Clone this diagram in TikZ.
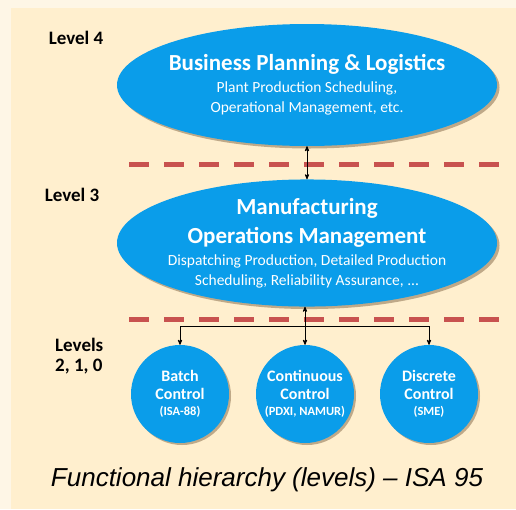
\documentclass[tikz,border=0pt]{standalone}
\usepackage{fontspec}
\setmainfont{Carlito}
\newfontfamily\capfont{Liberation Sans}
\usepackage{tikz}
\usetikzlibrary{shapes.geometric, arrows, positioning, shadows}
\definecolor{outerbg}{HTML}{FEF6E6}
\definecolor{innerbg}{HTML}{FFEFCE}
\definecolor{isablue}{HTML}{0A9DEA}
\definecolor{sepred}{HTML}{C8524F}
\tikzset{
  ell_b/.style = {ellipse, fill=isablue, text=white, align=center, inner xsep=-14pt, inner ysep=0pt,
    minimum width=380pt, minimum height=122pt, font=\fontsize{15.5}{20}\selectfont,
    drop shadow={shadow xshift=2.5pt, shadow yshift=-2.5pt, fill=black!50!brown, opacity=0.4}},
  circ_b/.style = {circle, fill=isablue, text=white, align=center, inner sep=0pt,
    minimum size=98pt, font=\fontsize{16}{18}\selectfont\bfseries,
    drop shadow={shadow xshift=2pt, shadow yshift=-2pt, fill=black!50!brown, opacity=0.4}},
  lvl_t/.style = {align=left, inner sep=0pt, font=\fontsize{19}{21}\selectfont\bfseries},
  sep_l/.style = {draw=sepred, line width=5pt, dash pattern=on 20pt off 15pt}
}

\begin{document}
\begin{tikzpicture}[x=1pt, y=-1pt, >=stealth']
  \fill[outerbg] (0,0) rectangle (516,509);
  \fill[innerbg] (11,8) rectangle (516,509);
  \useasboundingbox (0,0) rectangle (516,509);

  % levels
  \node[lvl_t] (l4) at (76,38) {Level 4};
  \node[lvl_t] (l3) at (72,195) {Level 3};
  \node[lvl_t, anchor=north west, font=\fontsize{19}{20}\selectfont\bfseries] (l2) at (55,338) {Levels\\2, 1, 0};

  % separators
  \coordinate (s1a) at (129,164);
  \coordinate (s1b) at (500,164);
  \coordinate (s2a) at (129,319);
  \coordinate (s2b) at (500,319);
  \draw[sep_l] (s1a) -- (s1b);
  \draw[sep_l] (s2a) -- (s2b);

  % ellipses
  \node[ell_b] (bpl) at (307,85) {%
    {\fontsize{23}{27}\selectfont\bfseries Business Planning \& Logistics}\\[2pt]
    Plant Production Scheduling,\\
    Operational Management, etc.};
  \node[ell_b] (mom) at (307,243) {%
    {\fontsize{23}{27}\selectfont\bfseries Manufacturing}\\[8pt]
    {\fontsize{23}{27}\selectfont\bfseries Operations Management}\\[2pt]
    Dispatching Production, Detailed Production\\
    Scheduling, Reliability Assurance, ...};

  % control circles
  \node[circ_b] (bc) at (180,394) {Batch\\Control\\[-2pt]{\fontsize{12.5}{14}\selectfont (ISA-88)}};
  \node[circ_b] (cc) at (305,394) {Continuous\\Control\\[-2pt]{\fontsize{12.5}{14}\selectfont (PDXI, NAMUR)}};
  \node[circ_b] (dc) at (429,394) {Discrete\\Control\\[-2pt]{\fontsize{12.5}{14}\selectfont (SME)}};

  % connectors
  \coordinate (bar) at (305,326);
  \draw[<->, thick] (bpl.south) -- (mom.north);
  \draw[<->, thick] (mom.south -| cc.north) -- (cc.north);
  \draw[->, thick] (bar) -| (bc.north);
  \draw[->, thick] (bar) -| (dc.north);

  % caption
  \node[font=\capfont\itshape\fontsize{26}{28}\selectfont, inner sep=0pt] (cap) at (267,480)
    {Functional hierarchy (levels) – ISA 95};
\end{tikzpicture}
\end{document}
